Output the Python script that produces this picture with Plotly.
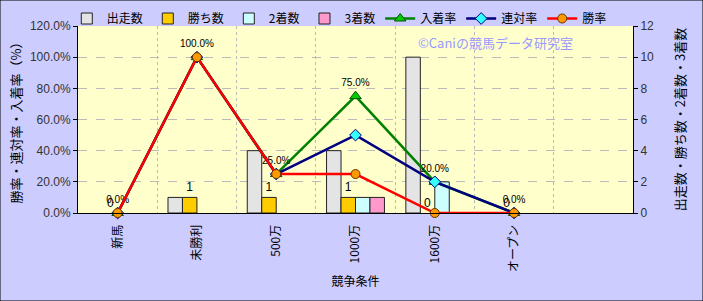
import plotly.graph_objects as go

categories = ["新馬", "未勝利", "500万", "1000万", "1600万", "オープン", " "]
starts = [0, 1, 4, 4, 10, 0]
wins = [0, 1, 1, 1, 0, 0]
seconds = [0, 0, 0, 1, 2, 0]
thirds = [0, 0, 0, 1, 0, 0]
place_rate = [0.0, 1.0, 0.25, 0.75, 0.20, 0.0]
quinella_rate = [0.0, 1.0, 0.25, 0.50, 0.20, 0.0]
win_rate = [0.0, 1.0, 0.25, 0.25, 0.0, 0.0]

cats = categories[:len(starts)]
JP = "Noto Sans CJK JP"
NUM = "Liberation Sans, Noto Sans CJK JP"
OUTLINE = "#222222"

bar_series = [
    ("出走数", starts, "#E4E4E4"),
    ("勝ち数", wins, "#FFCC00"),
    ("2着数", seconds, "#CCFFFF"),
    ("3着数", thirds, "#FF99CC"),
]

fig = go.Figure()

# legend entries for bars (drawn as outlined boxes)
for name, vals, col in bar_series:
    fig.add_trace(go.Scatter(name=name, x=[cats[0]], y=[None], mode="markers", yaxis="y",
                             marker=dict(symbol="square", size=11, color=col, line=dict(color=OUTLINE, width=1))))

for name, vals, col in bar_series:
    kw = {}
    if name == "勝ち数":
        kw = dict(text=[str(v) for v in vals], textposition="outside",
                  textfont=dict(size=12, color="#000000", family=NUM), cliponaxis=False)
    fig.add_trace(go.Bar(name=name, x=cats, y=vals, yaxis="y", showlegend=False,
                         marker=dict(color=col, line=dict(color=OUTLINE, width=[1 if v else 0 for v in vals])),
                         **kw))

fig.add_trace(go.Scatter(name="入着率", x=cats, y=place_rate, yaxis="y2", mode="lines+markers+text",
                         line=dict(color="#008000", width=2.5),
                         marker=dict(symbol="triangle-up", size=10, color="#00CC00", line=dict(color="#005500", width=1)),
                         text=[f"{v*100:.1f}%" for v in place_rate], textposition="top center",
                         textfont=dict(size=10, color="#000000", family=NUM), cliponaxis=False))
fig.add_trace(go.Scatter(name="連対率", x=cats, y=quinella_rate, yaxis="y2", mode="lines+markers",
                         line=dict(color="#000080", width=2.5),
                         marker=dict(symbol="diamond", size=9, color="#33FFFF", line=dict(color="#000080", width=1)),
                         cliponaxis=False))
fig.add_trace(go.Scatter(name="勝率", x=cats, y=win_rate, yaxis="y2", mode="lines+markers",
                         line=dict(color="#FF0000", width=2.5),
                         marker=dict(symbol="circle", size=9, color="#FF9900", line=dict(color="#663300", width=1)),
                         cliponaxis=False))

fig.add_annotation(text="©Caniの競馬データ研究室", xref="paper", yref="paper", x=0.753, y=0.91,
                   yanchor="middle", xanchor="center",
                   showarrow=False, font=dict(family=JP, size=13, color="#9999FF"))

fig.update_layout(
    width=703, height=301,
    margin=dict(l=78, r=70, t=26, b=88, autoexpand=False),
    paper_bgcolor="#CCCCFF", plot_bgcolor="#FFFFCC",
    barmode="group", bargap=0.27, bargroupgap=0,
    font=dict(family=NUM, size=12, color="#333333"),
    showlegend=True,
    legend=dict(orientation="h", x=0.095, xanchor="left", y=1.0 - 4 / 301, yanchor="top",
                xref="container", yref="container",
                bgcolor="rgba(0,0,0,0)", font=dict(family=JP, size=12, color="#000000"),
                itemwidth=30, tracegroupgap=0, traceorder="normal"),
    xaxis=dict(type="category", categoryorder="array", categoryarray=categories,
               range=[-0.5, len(categories) - 0.5],
               tickangle=-90, tickson="boundaries", showgrid=True, gridcolor="#BBBBBB", griddash="dot",
               gridwidth=1, ticks="", showline=True, linecolor="#000000", linewidth=1,
               ticklabelstandoff=6,
               tickfont=dict(family=JP, size=12, color="#000000"),
               title=dict(text="競争条件", font=dict(family=JP, size=12, color="#000000"), standoff=6)),
    yaxis=dict(side="right", range=[0, 12], dtick=2, showgrid=True, gridcolor="#BBBBBB", griddash="dash",
               ticks="outside", ticklen=4, tickcolor="#000000", showline=True, linecolor="#000000",
               tickfont=dict(size=12, color="#333333"), zeroline=False,
               title=dict(text="出走数・勝ち数・2着数・3着数", font=dict(family=JP, size=13, color="#000000"), standoff=22)),
    yaxis2=dict(side="left", overlaying="y", range=[0, 1.2], dtick=0.2, tickformat=".1%", showgrid=False,
                ticks="outside", ticklen=4, tickcolor="#000000", showline=True, linecolor="#000000",
                tickfont=dict(size=12, color="#333333"), zeroline=False,
                title=dict(text="勝率・連対率・入着率（%）", font=dict(family=JP, size=13, color="#000000"), standoff=5)),
    shapes=[dict(type="rect", xref="paper", yref="paper", x0=-78/555, x1=1+70/555, y0=-88/187, y1=1+26/187,
                 line=dict(color="#000000", width=1))],
)

fig.write_html("out.html")
